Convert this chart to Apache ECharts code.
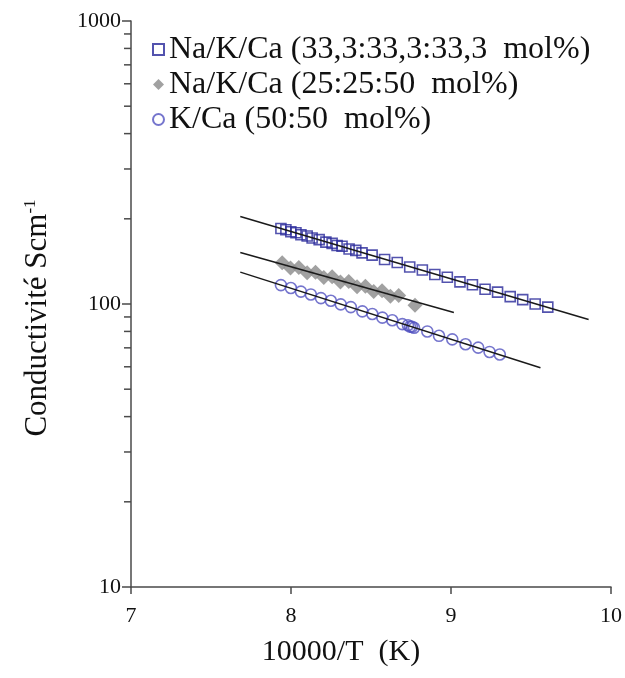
<!DOCTYPE html>
<html>
<head>
<meta charset="utf-8">
<script src="https://cdn.jsdelivr.net/npm/echarts@6/dist/echarts.min.js"></script>
<style>
html,body{margin:0;padding:0;background:#fff;}
#chart{width:625px;height:678px;}
</style>
</head>
<body>
<div id="chart"></div>
<script>
// ---- data ----
const xMin = 7, xMax = 10, xInterval = 1;
const yMin = 10, yMax = 1000;
const yMinorTickValues = [20,30,40,50,60,70,80,90,200,300,400,500,600,700,800,900];

const seriesNames = ['Na/K/Ca (33,3:33,3:33,3  mol%)', 'Na/K/Ca (25:25:50  mol%)', 'K/Ca (50:50  mol%)'];

const naKCa333X = [7.937, 7.968, 7.999, 8.031, 8.062, 8.101, 8.132, 8.176, 8.218, 8.257, 8.288, 8.319, 8.363, 8.405, 8.444,
  8.507, 8.585, 8.664, 8.742, 8.821, 8.899, 8.977, 9.056, 9.134, 9.213, 9.291, 9.370, 9.448, 9.526, 9.605];
const naKCa333Y = [184.8, 183.0, 180.0, 178.6, 175.7, 173.9, 171.0, 168.9, 165.4, 163.8, 161.0, 159.9, 156.4, 154.7, 151.6,
  148.8, 143.6, 140.1, 135.2, 131.9, 127.2, 124.3, 119.7, 116.9, 112.8, 110.1, 106.2, 103.6, 100.0, 97.5];

const naKCa2550X = [7.945, 7.997, 8.049, 8.101, 8.153, 8.205, 8.257, 8.309, 8.361, 8.413, 8.465, 8.517, 8.569, 8.621, 8.673, 8.775];
const naKCa2550Y = [139.8, 134.0, 134.6, 129.0, 129.6, 124.1, 124.8, 119.5, 120.1, 115.0, 115.6, 110.7, 111.3, 106.6, 107.1, 99.0];

const kCaX = [7.937, 7.999, 8.062, 8.124, 8.187, 8.249, 8.311, 8.374, 8.446, 8.508, 8.571, 8.633, 8.696, 8.731, 8.744, 8.756,
  8.769, 8.852, 8.925, 9.008, 9.091, 9.170, 9.241, 9.305];
const kCaY = [116.6, 113.9, 110.6, 108.1, 104.9, 102.7, 99.7, 97.5, 94.2, 92.2, 89.5, 87.6, 84.9, 84.1, 83.2, 83.1,
  82.4, 80.0, 77.2, 75.0, 72.1, 70.1, 67.7, 66.3];

// linear fits (in log scale)
const fit333X = [7.683, 9.860];
const fit333Y = [203.9, 88.2];
const fit2550X = [7.683, 9.018];
const fit2550Y = [152.0, 93.3];
const fitKCaX = [7.683, 9.559];
const fitKCaY = [129.6, 59.5];

// ---- chart ----
const zip = (xs, ys) => xs.map((x, i) => [x, ys[i]]);
const FONT = '"Liberation Serif", "Times New Roman", serif';
const AXIS_COLOR = '#4a4a4a';

const chart = echarts.init(document.getElementById('chart'), null, {renderer: 'canvas'});

const fitLine = (name, xs, ys) => ({
  name: name, type: 'line', data: zip(xs, ys), symbol: 'none', silent: true,
  lineStyle: {color: '#1a1a1a', width: 1.5}, z: 5, animation: false
});

chart.setOption({
  animation: false,
  backgroundColor: '#fff',
  grid: {left: 131, right: 13, top: 21, bottom: 91, containLabel: false},
  legend: {
    orient: 'vertical', left: 147, top: 28, itemGap: 2,
    itemWidth: 11, itemHeight: 11,
    data: seriesNames,
    textStyle: {fontFamily: FONT, fontSize: 32, color: '#111', lineHeight: 33},
    selectedMode: false
  },
  xAxis: {
    type: 'value', min: xMin, max: xMax, interval: xInterval,
    name: '10000/T  (K)', nameLocation: 'middle', nameGap: 50,
    nameTextStyle: {fontFamily: FONT, fontSize: 30, color: '#111', padding: [0, 60, 0, 0]},
    axisLine: {show: true, lineStyle: {color: AXIS_COLOR, width: 1.5}},
    axisTick: {show: true, inside: false, length: 7, lineStyle: {color: AXIS_COLOR, width: 1.5}},
    axisLabel: {fontFamily: FONT, fontSize: 22, color: '#111', margin: 18},
    splitLine: {show: false}
  },
  yAxis: {
    type: 'log', logBase: 10, min: yMin, max: yMax,
    name: 'Conductivité Scm{sup|-1}', nameLocation: 'middle', nameGap: 78, nameRotate: 90,
    nameTextStyle: {fontFamily: FONT, fontSize: 31, color: '#111', padding: [0, 28, 0, 0],
      rich: {sup: {fontFamily: FONT, fontSize: 17, color: '#111', verticalAlign: 'top', lineHeight: 30, padding: [0, 0, 14, 0]}}},
    axisLine: {show: true, lineStyle: {color: AXIS_COLOR, width: 1.5}},
    axisTick: {show: true, inside: false, length: 9, lineStyle: {color: AXIS_COLOR, width: 1.5}},
    axisLabel: {fontFamily: FONT, fontSize: 22, color: '#111', margin: 10, formatter: v => String(v)},
    splitLine: {show: false},
    minorTick: {show: false}
  },
  series: [
    {
      name: seriesNames[0], type: 'scatter', data: zip(naKCa333X, naKCa333Y),
      symbol: 'rect', symbolSize: 10,
      itemStyle: {color: 'rgba(255,255,255,0)', borderColor: '#28289a', borderWidth: 1.6},
      z: 3
    },
    {
      name: seriesNames[1], type: 'scatter', data: zip(naKCa2550X, naKCa2550Y),
      symbol: 'diamond', symbolSize: 15,
      itemStyle: {color: '#8a8a8a', borderWidth: 0},
      z: 2
    },
    {
      name: seriesNames[2], type: 'scatter', data: zip(kCaX, kCaY),
      symbol: 'circle', symbolSize: 11,
      itemStyle: {color: 'rgba(255,255,255,0)', borderColor: '#5252c0', borderWidth: 1.6},
      z: 3
    },
    fitLine('fit1', fit333X, fit333Y),
    fitLine('fit2', fit2550X, fit2550Y),
    fitLine('fit3', fitKCaX, fitKCaY),
    {
      name: 'minorTicks', type: 'custom', silent: true, clip: false, z: 1,
      data: yMinorTickValues.map(v => [xMin, v]),
      renderItem: function (params, api) {
        const p = api.coord([api.value(0), api.value(1)]);
        return {
          type: 'line',
          shape: {x1: p[0] - 7, y1: p[1], x2: p[0], y2: p[1]},
          style: {stroke: AXIS_COLOR, lineWidth: 1.5}
        };
      }
    }
  ]
});
</script>
</body>
</html>
